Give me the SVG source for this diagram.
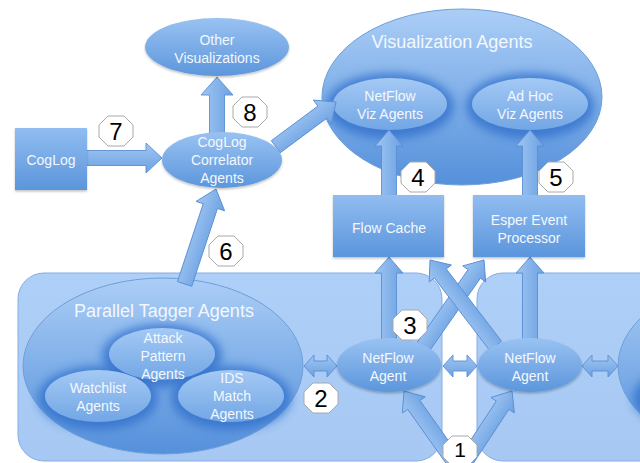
<svg xmlns="http://www.w3.org/2000/svg" width="640" height="463" viewBox="0 0 640 463">
<defs>
<style>
.t{font-family:"Liberation Sans",Arial,sans-serif;fill:#f3f8fe;text-anchor:middle;font-size:14px}
.tt{font-size:18px}
.n{font-family:"Liberation Sans",Arial,sans-serif;fill:#000;text-anchor:middle;font-size:24px}
.box{fill:url(#gBox);stroke:#86ade2;stroke-width:1}
.big{fill:url(#gBig);stroke:#6f9fd9;stroke-width:1}
.node{fill:url(#gNode);filter:url(#sh)}
.inner{fill:url(#gInner)}
.glow{fill:#3271cc;opacity:.8;filter:url(#blur)}
.rect{fill:url(#gRect);filter:url(#sh)}
.arr{fill:url(#gArr);stroke:#5a8fd4;stroke-width:.9}
.oct{fill:#fff;stroke:#a8a8a8;stroke-width:1}
</style>
<linearGradient id="gBig" x1="0" y1="0" x2="0" y2="1"><stop offset="0" stop-color="#abcef6"/><stop offset="1" stop-color="#5590db"/></linearGradient>
<linearGradient id="gNode" x1="0" y1="0" x2="0" y2="1"><stop offset="0" stop-color="#99c2f2"/><stop offset="1" stop-color="#5c96dc"/></linearGradient>
<linearGradient id="gInner" x1="0" y1="0" x2="0" y2="1"><stop offset="0" stop-color="#a4c9f4"/><stop offset="1" stop-color="#72a6e5"/></linearGradient>
<linearGradient id="gRect" x1="0" y1="0" x2="0" y2="1"><stop offset="0" stop-color="#91bdf0"/><stop offset="1" stop-color="#5b95dc"/></linearGradient>
<linearGradient id="gArr" x1="0" y1="0" x2="0" y2="1"><stop offset="0" stop-color="#a0c6f2"/><stop offset="1" stop-color="#6ca1e2"/></linearGradient>
<linearGradient id="gBox" x1="0" y1="0" x2="0" y2="1"><stop offset="0" stop-color="#aecff7"/><stop offset="1" stop-color="#a6c8f3"/></linearGradient>
<filter id="blur" x="-30%" y="-30%" width="160%" height="160%"><feGaussianBlur stdDeviation="5"/></filter>
<filter id="sh" x="-20%" y="-20%" width="140%" height="150%"><feDropShadow dx="0" dy="1.5" stdDeviation="1.2" flood-color="#000" flood-opacity=".25"/></filter>
<polygon id="oct" class="oct" points="-8,-15 8,-15 17,-6 17,6 8,15 -8,15 -17,6 -17,-6"/>
</defs>
<rect width="640" height="463" fill="#fff"/>

<g id="containers">
<rect id="left-container" class="box" x="18" y="273" width="424" height="188" rx="26"/>
<rect id="right-container" class="box" x="477" y="273" width="200" height="188" rx="26"/>
</g>

<g id="parallel-tagger">
<ellipse class="big" cx="163" cy="366" rx="140" ry="88"/>
<text class="t tt" x="164" y="317">Parallel Tagger Agents</text>
</g>
<g id="attack-pattern">
<ellipse class="glow" cx="162" cy="356" rx="60" ry="32"/>
</g>
<g id="watchlist">
<ellipse class="glow" cx="98" cy="398" rx="60" ry="32"/>
</g>
<g id="ids-match">
<ellipse class="glow" cx="231" cy="398" rx="60" ry="32"/>
</g>
<g id="attack-pattern-node">
<ellipse class="inner" cx="162" cy="354" rx="53" ry="26"/>
<text class="t" x="163" y="343">Attack</text>
<text class="t" x="163" y="361">Pattern</text>
<text class="t" x="163" y="379">Agents</text>
</g>
<g id="watchlist-node">
<ellipse class="inner" cx="98" cy="396" rx="53" ry="26"/>
<text class="t" x="98" y="393">Watchlist</text>
<text class="t" x="98" y="411">Agents</text>
</g>
<g id="ids-match-node">
<ellipse class="inner" cx="231" cy="396" rx="53" ry="26"/>
<text class="t" x="232" y="383">IDS</text>
<text class="t" x="232" y="401">Match</text>
<text class="t" x="232" y="419">Agents</text>
</g>

<g id="right-tagger">
<ellipse class="big" cx="758" cy="366" rx="140" ry="88"/>
<ellipse class="glow" cx="693" cy="398" rx="60" ry="32"/>
</g>

<g id="visualization-agents">
<ellipse class="big" cx="462" cy="97" rx="140" ry="88"/>
<text class="t tt" x="452" y="48">Visualization Agents</text>
<ellipse class="glow" cx="390" cy="106" rx="64" ry="33"/>
<ellipse class="glow" cx="530" cy="106" rx="64" ry="33"/>
</g>
<g id="netflow-viz">
<ellipse class="inner" cx="390" cy="104" rx="57" ry="26"/>
<text class="t" x="390" y="101">NetFlow</text>
<text class="t" x="390" y="119">Viz Agents</text>
</g>
<g id="adhoc-viz">
<ellipse class="inner" cx="530" cy="104" rx="58" ry="26"/>
<text class="t" x="530" y="101">Ad Hoc</text>
<text class="t" x="530" y="119">Viz Agents</text>
</g>

<g id="connectors">
<polygon class="arr" transform="translate(162,158) rotate(0)" points="0,0 -16,-15 -16,-7.5 -77,-7.5 -77,7.5 -16,7.5 -16,15"/>
<polygon class="arr" transform="translate(217,77) rotate(-90)" points="0,0 -18,-16 -18,-7.5 -58,-7.5 -58,7.5 -18,7.5 -18,16"/>
<polygon class="arr" transform="translate(336,102) rotate(-36.6)" points="0,0 -17,-15 -17,-7.5 -75,-7.5 -75,7.5 -17,7.5 -17,15"/>
<polygon class="arr" transform="translate(389,130) rotate(-90)" points="0,0 -16,-14 -16,-7.5 -66,-7.5 -66,7.5 -16,7.5 -16,14"/>
<polygon class="arr" transform="translate(530,130) rotate(-90)" points="0,0 -16,-14 -16,-7.5 -66,-7.5 -66,7.5 -16,7.5 -16,14"/>
<polygon class="arr" transform="translate(216,189) rotate(-71.7)" points="0,0 -18,-15 -18,-7.5 -100,-7.5 -100,7.5 -18,7.5 -18,15"/>
<polygon class="arr" transform="translate(389,257) rotate(-90)" points="0,0 -16,-14 -16,-7.5 -86,-7.5 -86,7.5 -16,7.5 -16,14"/>
<polygon class="arr" transform="translate(530,257) rotate(-90)" points="0,0 -16,-14 -16,-7.5 -86,-7.5 -86,7.5 -16,7.5 -16,14"/>
<polygon class="arr" transform="translate(484,260) rotate(-55)" points="0,0 -17,-14 -17,-7.5 -108,-7.5 -108,7.5 -17,7.5 -17,14"/>
<polygon class="arr" transform="translate(430,260) rotate(-127.4)" points="0,0 -17,-14 -17,-7.5 -108,-7.5 -108,7.5 -17,7.5 -17,14"/>
<polygon class="arr" transform="translate(404,391) rotate(-125.3)" points="0,0 -17,-14 -17,-7.5 -100,-7.5 -100,7.5 -17,7.5 -17,14"/>
<polygon class="arr" transform="translate(512,391) rotate(-56.6)" points="0,0 -17,-14 -17,-7.5 -98,-7.5 -98,7.5 -17,7.5 -17,14"/>
<polygon class="arr" points="304,366 314,355 314,361 327,361 327,355 337,366 327,377 327,371 314,371 314,377"/>
<polygon class="arr" points="443,366 453,355 453,361 467,361 467,355 477,366 467,377 467,371 453,371 453,377"/>
<polygon class="arr" points="582,366 592,355 592,361 608,361 608,355 618,366 608,377 608,371 592,371 592,377"/>
</g>

<g id="other-visualizations">
<ellipse class="node" cx="217" cy="47" rx="72" ry="29"/>
<text class="t" x="217" y="45">Other</text>
<text class="t" x="217" y="63">Visualizations</text>
</g>
<g id="coglog">
<rect class="rect" x="15" y="128" width="72" height="62"/>
<text class="t" x="51" y="165">CogLog</text>
</g>
<g id="coglog-correlator">
<ellipse class="node" cx="222" cy="160" rx="60" ry="28"/>
<text class="t" x="222" y="147">CogLog</text>
<text class="t" x="222" y="165">Correlator</text>
<text class="t" x="222" y="183">Agents</text>
</g>
<g id="flow-cache">
<rect class="rect" x="333" y="195" width="111" height="62"/>
<text class="t" x="389" y="233">Flow Cache</text>
</g>
<g id="esper">
<rect class="rect" x="473" y="195" width="112" height="62"/>
<text class="t" x="529" y="225">Esper Event</text>
<text class="t" x="529" y="243">Processor</text>
</g>
<g id="netflow-agent-1">
<ellipse class="node" cx="389" cy="365" rx="52" ry="27"/>
<text class="t" x="388" y="363">NetFlow</text>
<text class="t" x="388" y="381">Agent</text>
</g>
<g id="netflow-agent-2">
<ellipse class="node" cx="530" cy="365" rx="52" ry="27"/>
<text class="t" x="530" y="363">NetFlow</text>
<text class="t" x="530" y="381">Agent</text>
</g>

<g id="step-labels">
<use href="#oct" x="116" y="131"/><text class="n" x="116" y="140">7</text>
<use href="#oct" x="250" y="112"/><text class="n" x="250" y="121">8</text>
<use href="#oct" x="418" y="177"/><text class="n" x="418" y="186">4</text>
<use href="#oct" x="556" y="177"/><text class="n" x="556" y="186">5</text>
<use href="#oct" x="226" y="251"/><text class="n" x="226" y="260">6</text>
<use href="#oct" x="410" y="325"/><text class="n" x="410" y="334">3</text>
<use href="#oct" x="321" y="398"/><text class="n" x="321" y="407">2</text>
<use href="#oct" x="460" y="451"/><text class="n" x="460" y="457" style="font-size:21px">1</text>
</g>
</svg>
